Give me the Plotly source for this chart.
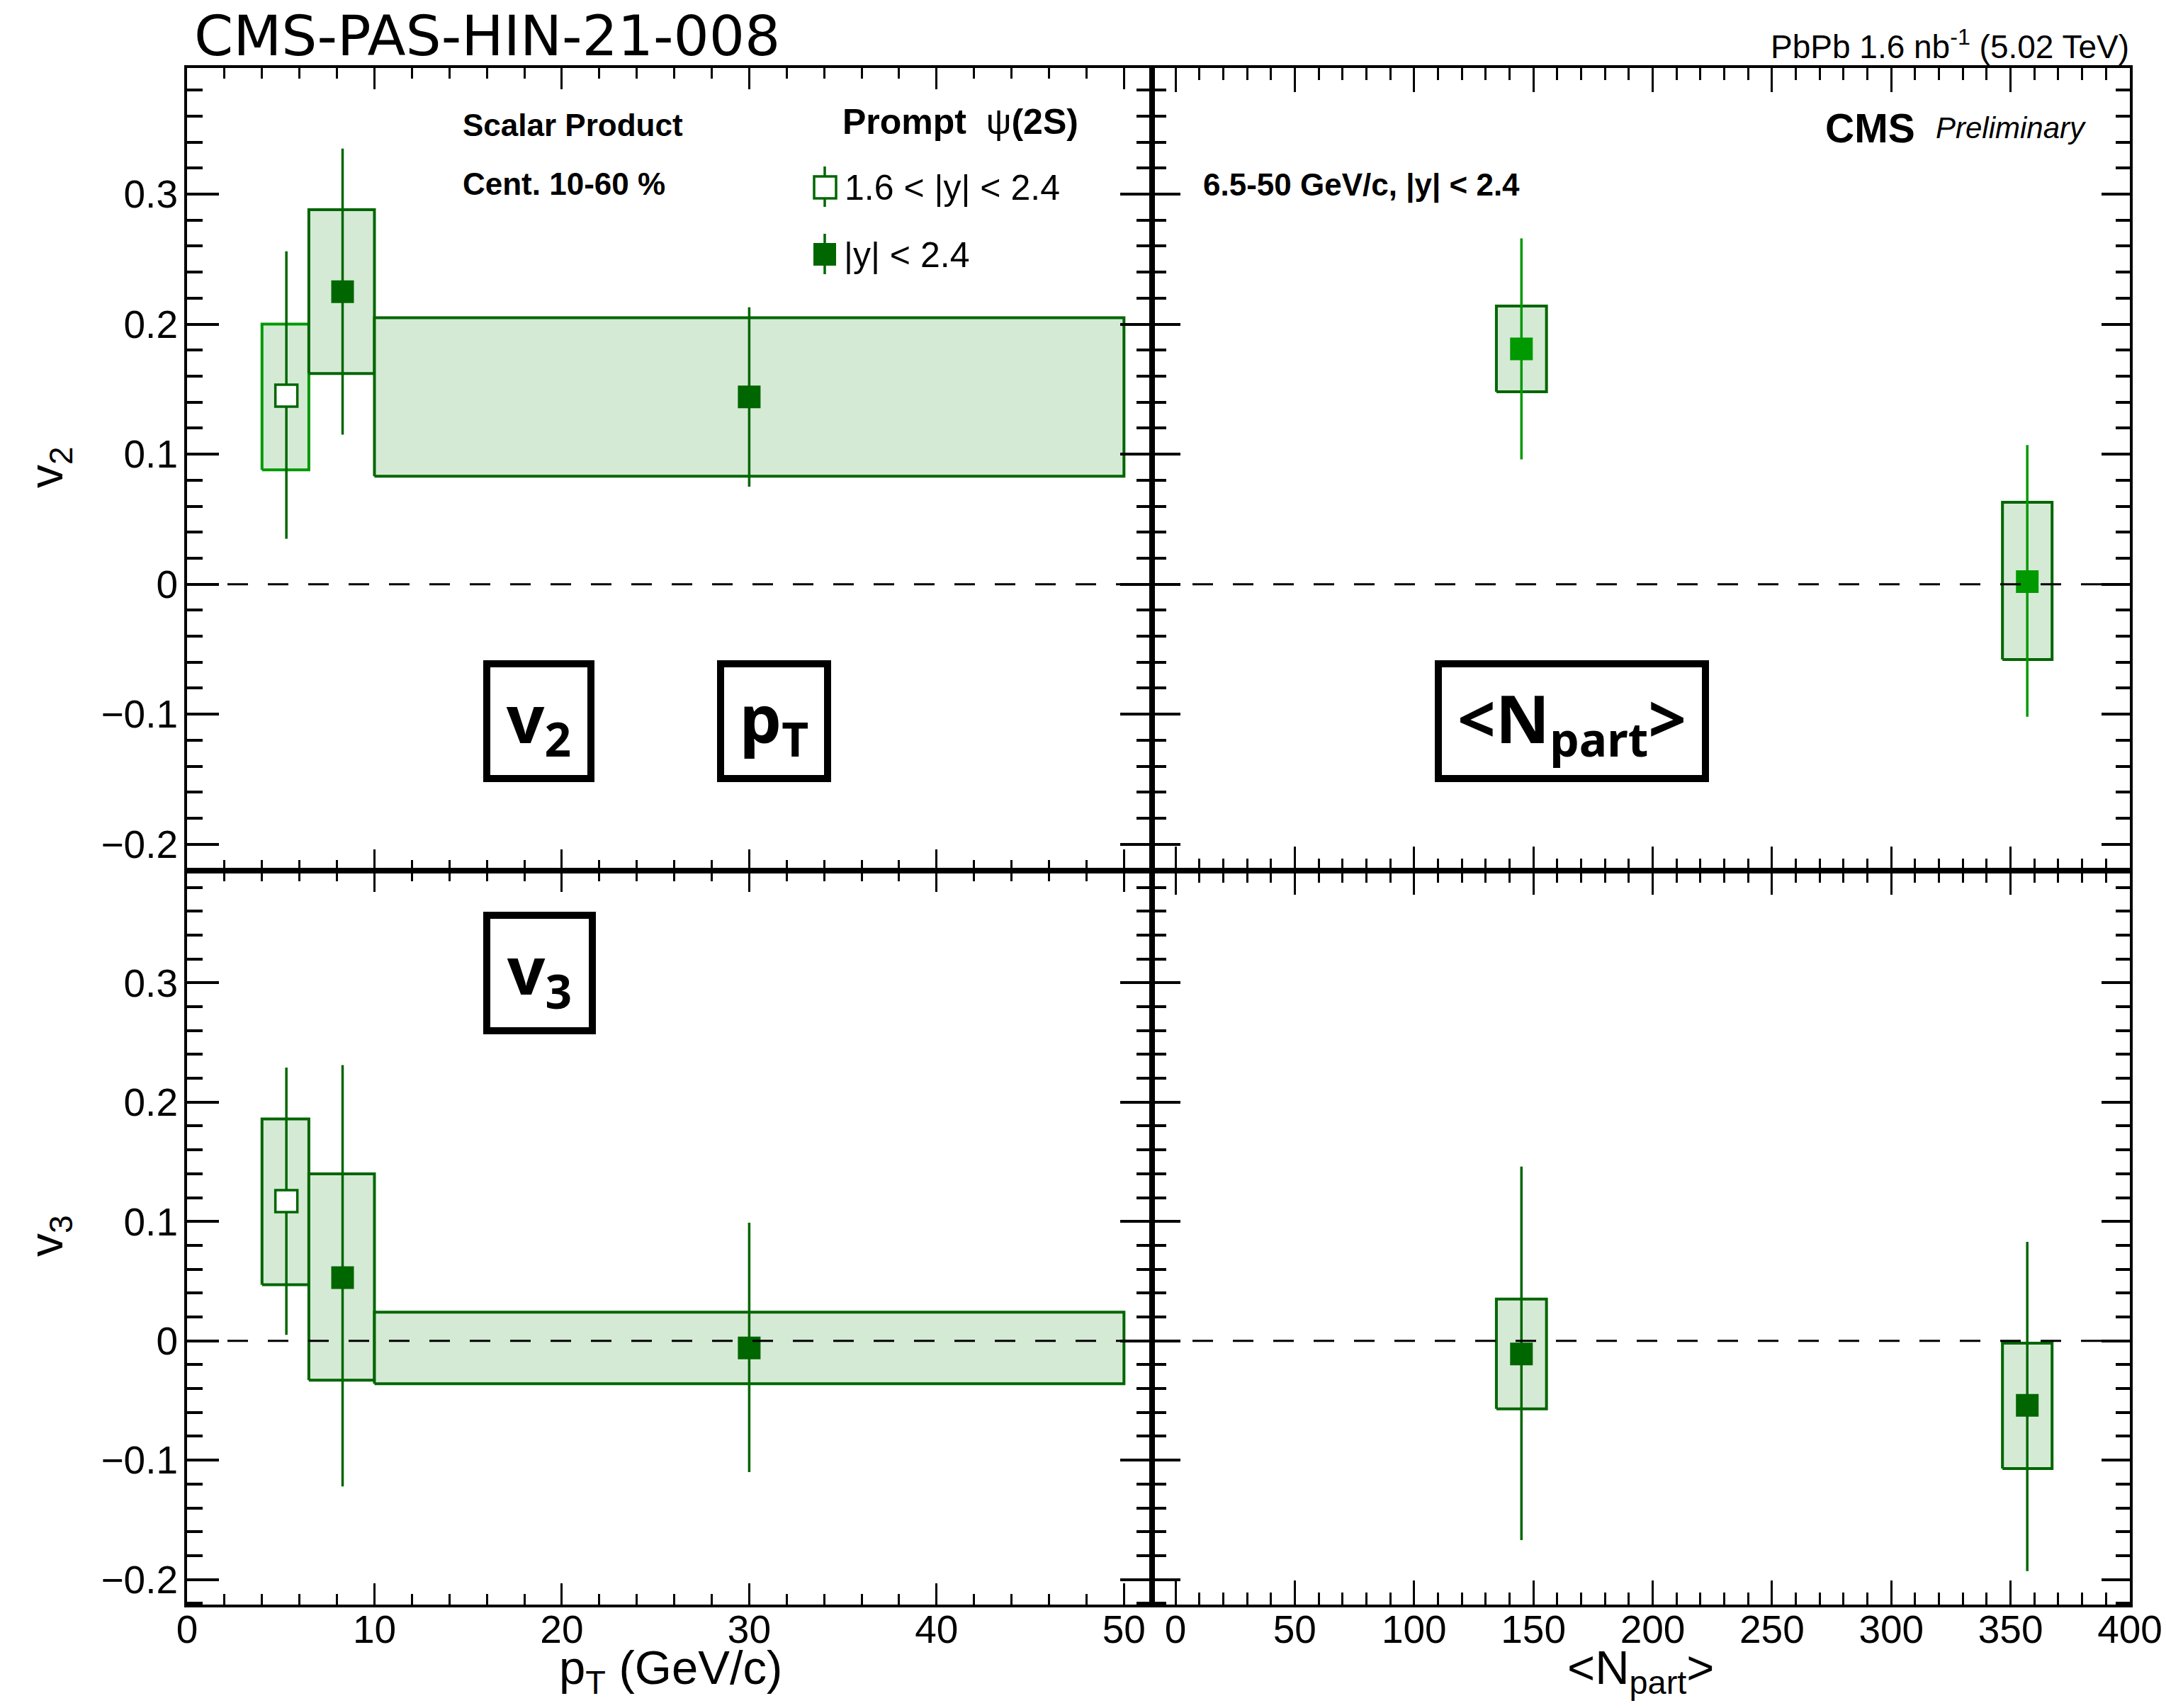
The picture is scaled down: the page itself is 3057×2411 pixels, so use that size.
import plotly.graph_objects as go

W, H = 3057, 2411

# ---------------- data ----------------
# v2 vs pT, 1.6<|y|<2.4 (open)
pt_fwd = [5.3]
pt_fwd_lo = [4.0]
pt_fwd_hi = [6.5]
v2_fwd = [0.145]
v2_fwd_stat_lo = [0.035]
v2_fwd_stat_hi = [0.256]
v2_fwd_sys_lo = [0.088]
v2_fwd_sys_hi = [0.200]

# v2 vs pT, |y|<2.4 (filled)
pt_mid = [8.3, 30.0]
pt_mid_lo = [6.5, 10.0]
pt_mid_hi = [10.0, 50.0]
v2_mid = [0.225, 0.144]
v2_mid_stat_lo = [0.115, 0.075]
v2_mid_stat_hi = [0.335, 0.213]
v2_mid_sys_lo = [0.162, 0.083]
v2_mid_sys_hi = [0.288, 0.205]

# v2 vs Npart
npart = [145.0, 357.0]
npart_lo = [134.5, 346.6]
npart_hi = [155.5, 367.4]
v2_np = [0.181, 0.002]
v2_np_stat_lo = [0.096, -0.102]
v2_np_stat_hi = [0.266, 0.107]
v2_np_sys_lo = [0.148, -0.058]
v2_np_sys_hi = [0.214, 0.063]

# v3 vs pT
v3_fwd = [0.117]
v3_fwd_stat_lo = [0.005]
v3_fwd_stat_hi = [0.229]
v3_fwd_sys_lo = [0.047]
v3_fwd_sys_hi = [0.186]

v3_mid = [0.053, -0.006]
v3_mid_stat_lo = [-0.122, -0.110]
v3_mid_stat_hi = [0.231, 0.099]
v3_mid_sys_lo = [-0.033, -0.036]
v3_mid_sys_hi = [0.140, 0.024]

# v3 vs Npart
v3_np = [-0.011, -0.054]
v3_np_stat_lo = [-0.167, -0.193]
v3_np_stat_hi = [0.146, 0.083]
v3_np_sys_lo = [-0.057, -0.107]
v3_np_sys_hi = [0.035, -0.002]

x_ticks_pt = [0, 10, 20, 30, 40, 50]
x_ticks_np = [0, 50, 100, 150, 200, 250, 300, 350, 400]
y_ticks = [-0.2, -0.1, 0, 0.1, 0.2, 0.3]

DARK = "#006600"
MED = "#009900"
FILL = "#d5ead5"

fig = go.Figure()


def add_boxes(xa, ya, xlo, xhi, ylo, yhi, edge):
    for a, b, c, d in zip(xlo, xhi, ylo, yhi):
        fig.add_trace(go.Scatter(
            x=[a, b, b, a, a], y=[c, c, d, d, c], mode="lines",
            fill="toself", fillcolor=FILL, line=dict(color=edge, width=4),
            xaxis=xa, yaxis=ya, showlegend=False, hoverinfo="skip"))


def add_points(xa, ya, x, y, lo, hi, mcolor, ecolor, open_marker=False):
    fig.add_trace(go.Scatter(
        x=x, y=y, mode="markers", xaxis=xa, yaxis=ya, showlegend=False,
        marker=dict(symbol="square", size=31 if open_marker else 32,
                    color="white" if open_marker else mcolor,
                    line=dict(color=mcolor, width=3.5 if open_marker else 0)),
        error_y=dict(type="data", symmetric=False,
                     array=[h - v for h, v in zip(hi, y)],
                     arrayminus=[v - l for l, v in zip(lo, y)],
                     color=ecolor, thickness=3.5, width=0)))


# top-left: v2 vs pT
add_boxes("x", "y", pt_fwd_lo, pt_fwd_hi, v2_fwd_sys_lo, v2_fwd_sys_hi, MED)
add_boxes("x", "y", pt_mid_lo, pt_mid_hi, v2_mid_sys_lo, v2_mid_sys_hi, DARK)
add_points("x", "y", pt_fwd, v2_fwd, v2_fwd_stat_lo, v2_fwd_stat_hi, DARK, DARK, True)
add_points("x", "y", pt_mid, v2_mid, v2_mid_stat_lo, v2_mid_stat_hi, DARK, DARK)

# top-right: v2 vs Npart
add_boxes("x2", "y2", npart_lo, npart_hi, v2_np_sys_lo, v2_np_sys_hi, DARK)
add_points("x2", "y2", npart, v2_np, v2_np_stat_lo, v2_np_stat_hi, MED, MED)

# bottom-left: v3 vs pT
add_boxes("x3", "y3", pt_fwd_lo, pt_fwd_hi, v3_fwd_sys_lo, v3_fwd_sys_hi, DARK)
add_boxes("x3", "y3", pt_mid_lo, pt_mid_hi, v3_mid_sys_lo, v3_mid_sys_hi, DARK)
add_points("x3", "y3", pt_fwd, v3_fwd, v3_fwd_stat_lo, v3_fwd_stat_hi, DARK, DARK, True)
add_points("x3", "y3", pt_mid, v3_mid, v3_mid_stat_lo, v3_mid_stat_hi, DARK, DARK)

# bottom-right: v3 vs Npart
add_boxes("x4", "y4", npart_lo, npart_hi, v3_np_sys_lo, v3_np_sys_hi, DARK)
add_points("x4", "y4", npart, v3_np, v3_np_stat_lo, v3_np_stat_hi, DARK, DARK)


def px(x):
    return x / W


def py(y):
    return 1 - y / H


xL = [px(264), px(1626)]
xR = [px(1626), px(3006)]
yT = [py(1229), py(96)]
yB = [py(2265), py(1229)]

TICKFONT = dict(family="Liberation Sans, Arial, sans-serif", size=55, color="black")


def xax(domain, anchor, rng, tickvals, major, minor, mdt, labels):
    return dict(domain=domain, anchor=anchor, range=rng, tickvals=tickvals,
                ticks="inside", ticklen=major, tickwidth=3, tickcolor="black",
                minor=dict(ticks="inside", ticklen=minor, tickwidth=3, dtick=mdt,
                           tick0=0, tickcolor="black"),
                showline=True, linecolor="black", linewidth=4, mirror="allticks",
                showgrid=False, zeroline=False, showticklabels=labels,
                tickfont=TICKFONT, ticklabelstandoff=-16, automargin=False)


def yax(domain, anchor, rng, major, minor, labels):
    return dict(domain=domain, anchor=anchor, range=rng, tickvals=y_ticks,
                ticks="inside", ticklen=major, tickwidth=4, tickcolor="black",
                minor=dict(ticks="inside", ticklen=minor, tickwidth=4, dtick=0.02,
                           tick0=0, tickcolor="black"),
                showline=True, linecolor="black", linewidth=4, mirror="allticks",
                showgrid=False, zeroline=False, showticklabels=labels,
                tickfont=TICKFONT, ticklabelstandoff=-2, automargin=False)


rT = [-0.2203, 0.397]
rB = [-0.221, 0.394]
rPT = [0, 51.5]
rNP = [-9.8, 400]

fig.update_layout(
    width=W, height=H, margin=dict(l=0, r=0, t=0, b=0, autoexpand=False),
    paper_bgcolor="white", plot_bgcolor="rgba(0,0,0,0)", showlegend=False,
    xaxis=xax(xL, "y", rPT, x_ticks_pt, 30, 15, 2, False),
    xaxis2=xax(xR, "y2", rNP, x_ticks_np, 34, 17, 10, False),
    xaxis3=xax(xL, "y3", rPT, x_ticks_pt, 30, 15, 2, True),
    xaxis4=xax(xR, "y4", rNP, x_ticks_np, 34, 17, 10, True),
    yaxis=yax(yT, "x", rT, 45, 22, True),
    yaxis2=yax(yT, "x2", rT, 40, 20, False),
    yaxis3=yax(yB, "x3", rB, 45, 22, True),
    yaxis4=yax(yB, "x4", rB, 40, 20, False),
)

# dashed zero lines
for xa, ya in [("x", "y"), ("x2", "y2"), ("x3", "y3"), ("x4", "y4")]:
    fig.add_shape(type="line", xref=xa + " domain", yref=ya, x0=0, x1=1, y0=0, y1=0,
                  line=dict(color="black", width=3, dash="29px,28px"), layer="above")

# legend keys
fig.add_shape(type="line", xref="paper", yref="paper", x0=px(1164), x1=px(1164),
              y0=py(235), y1=py(292), line=dict(color=DARK, width=3.5))
fig.add_shape(type="rect", xref="paper", yref="paper", x0=px(1149), x1=px(1180),
              y0=py(249), y1=py(280), fillcolor="white", line=dict(color=DARK, width=3.5))
fig.add_shape(type="line", xref="paper", yref="paper", x0=px(1164), x1=px(1164),
              y0=py(330), y1=py(387), line=dict(color=DARK, width=3.5))
fig.add_shape(type="rect", xref="paper", yref="paper", x0=px(1148), x1=px(1180),
              y0=py(343), y1=py(375), fillcolor=DARK, line=dict(width=0))

HEL = "Liberation Sans, Arial, sans-serif"


def text(t, x, y, size, xanchor="left", yanchor="middle", family=HEL, angle=0):
    fig.add_annotation(text=t, x=px(x), y=py(y), xref="paper", yref="paper",
                       xanchor=xanchor, yanchor=yanchor, showarrow=False,
                       textangle=angle,
                       font=dict(family=family, size=size, color="black"))


text("CMS-PAS-HIN-21-008", 272, 51, 79, family="DejaVu Sans, sans-serif")
text("PbPb 1.6 nb<sup>-1</sup> (5.02 TeV)", 3007, 63, 46, xanchor="right")
text("<b>CMS</b>", 2574, 181, 57)
text("<i>Preliminary</i>", 2730, 180, 42)
text("<b>Scalar Product</b>", 651, 177, 44)
text("<b>Cent. 10-60 %</b>", 651, 259, 44)
text("<b>Prompt</b>  ψ<b>(2S)</b>", 1187, 172, 50)
text("1.6 &lt; |y| &lt; 2.4", 1190, 265, 50)
text("|y| &lt; 2.4", 1189, 360, 50)
text("<b>6.5-50 GeV/c, |y| &lt; 2.4</b>", 1696, 261, 44)

# axis titles
text("p<sub>T</sub> (GeV/c)", 946, 2358, 67, xanchor="center")
text("&lt;N<sub>part</sub>&gt;", 2315, 2358, 67, xanchor="center")
text("v<sub>2</sub>", 70, 660, 66, xanchor="center", angle=-90)
text("v<sub>3</sub>", 70, 1745, 66, xanchor="center", angle=-90)

# boxed labels
NOTO = "Noto Sans, sans-serif"


def boxed(t, x0, x1, y0, y1):
    bw = 10
    fig.add_annotation(text="<b>" + t + "</b>", x=px((x0 + x1) / 2), y=py((y0 + y1) / 2),
                       xref="paper", yref="paper", xanchor="center", yanchor="middle",
                       showarrow=False, width=(x1 - x0) - 2 * bw, height=(y1 - y0) - 2 * bw,
                       borderwidth=bw, borderpad=0, bordercolor="black", bgcolor="white",
                       font=dict(family=NOTO, size=94, color="black"))


boxed("v<sub>2</sub>", 682, 839, 932, 1104)
boxed("p<sub>T</sub>", 1012, 1173, 932, 1104)
boxed("&lt;N<sub>part</sub>&gt;", 2025, 2412, 932, 1104)
boxed("v<sub>3</sub>", 682, 841, 1287, 1460)

fig.write_html("out.html")
